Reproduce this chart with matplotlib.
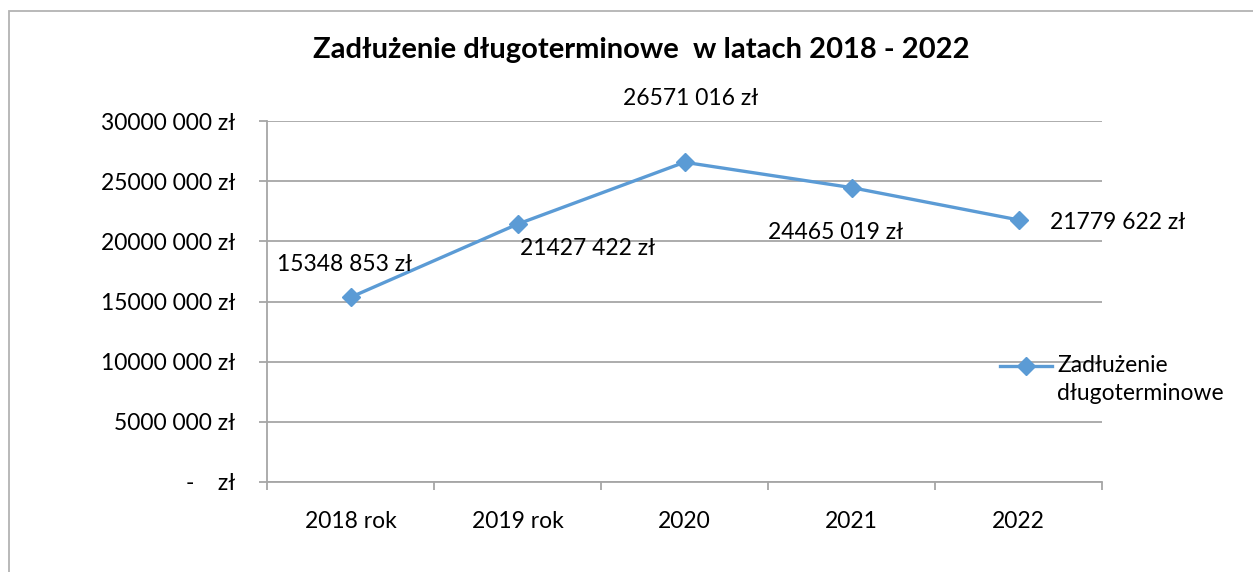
import matplotlib
matplotlib.use("Agg")
import matplotlib.pyplot as plt
from matplotlib.lines import Line2D
from matplotlib.patches import Rectangle

categories = ["2018 rok", "2019 rok", "2020", "2021", "2022"]
values = [15348853, 21427422, 26571016, 24465019, 21779622]
yticks = [0, 5000000, 10000000, 15000000, 20000000, 25000000, 30000000]
title = "Zadłużenie długoterminowe  w latach 2018 - 2022"
series_name = "Zadłużenie\ndługoterminowe"

plt.rcParams['font.family'] = ['Lato', 'DejaVu Sans']

W, H = 1253, 572
FS = 16.5
fig = plt.figure(figsize=(W / 100, H / 100), dpi=100)
fig.patch.set_facecolor("white")

# outer chart border (extends past right/bottom edges)
fig.add_artist(Rectangle((8.5 / W, -0.2), 2.0, 1.2 - 10.5 / H, transform=fig.transFigure,
                         fill=False, edgecolor="#B3B3B3", linewidth=1.3))

ax = fig.add_axes([267 / W, 1 - 482 / H, (1102 - 267) / W, (482 - 121) / H])
grid_c = "#A6A6A6"
color = "#5B9BD5"

x = list(range(len(categories)))
ax.plot(x, values, color=color, linewidth=2.4, marker="D", markersize=9.5, zorder=3, clip_on=False)

ax.set_xlim(-0.5, len(categories) - 0.5)
ax.set_ylim(0, 30000000)


def fmt(v):
    if v == 0:
        return "-    zł"
    return f"{v // 1000} {v % 1000:03d} zł"


ax.set_yticks(yticks)
ax.set_yticklabels([fmt(v) for v in yticks])
ax.yaxis.grid(True, color=grid_c, linewidth=1.3)
ax.set_axisbelow(True)

ax.set_xticks([i - 0.5 for i in range(len(categories) + 1)])
ax.set_xticklabels([])
ax.set_xticks(x, minor=True)
ax.set_xticklabels(categories, minor=True)
ax.tick_params(axis="x", which="minor", length=0, pad=21, labelsize=FS)
ax.tick_params(axis="x", which="major", length=6, color=grid_c, width=1.3, direction="out")
ax.tick_params(axis="y", length=6, color=grid_c, width=1.3, pad=17, labelsize=FS)

for s in ["top", "right"]:
    ax.spines[s].set_visible(False)
for s in ["left", "bottom"]:
    ax.spines[s].set_color(grid_c)
    ax.spines[s].set_linewidth(1.3)

# data labels (offsets in pixels)
offsets = [(-6, 33), (70, -24), (6, 64), (-16, -45), (99, -3)]
for xi, v, (dx, dy) in zip(x, values, offsets):
    ax.annotate(fmt(v), (xi, v), xytext=(dx, dy), textcoords="offset pixels",
                ha="center", va="center", fontsize=FS, color="black")

fig.text(641 / W, 1 - 50 / H, title, ha="center", va="center", fontsize=21, fontweight="bold")

# legend
fig.add_artist(Line2D([1000 / W, 1052 / W], [1 - 366 / H, 1 - 366 / H], transform=fig.transFigure,
                      color=color, linewidth=2.4))
fig.add_artist(Line2D([1026 / W], [1 - 366 / H], transform=fig.transFigure,
                      color=color, marker="D", markersize=9.5, linestyle="none"))
fig.text(1057 / W, 1 - 355 / H, series_name, ha="left", va="top", fontsize=FS,
         linespacing=1.42, transform=fig.transFigure)

fig.savefig("out.png", dpi=100, facecolor="white")
